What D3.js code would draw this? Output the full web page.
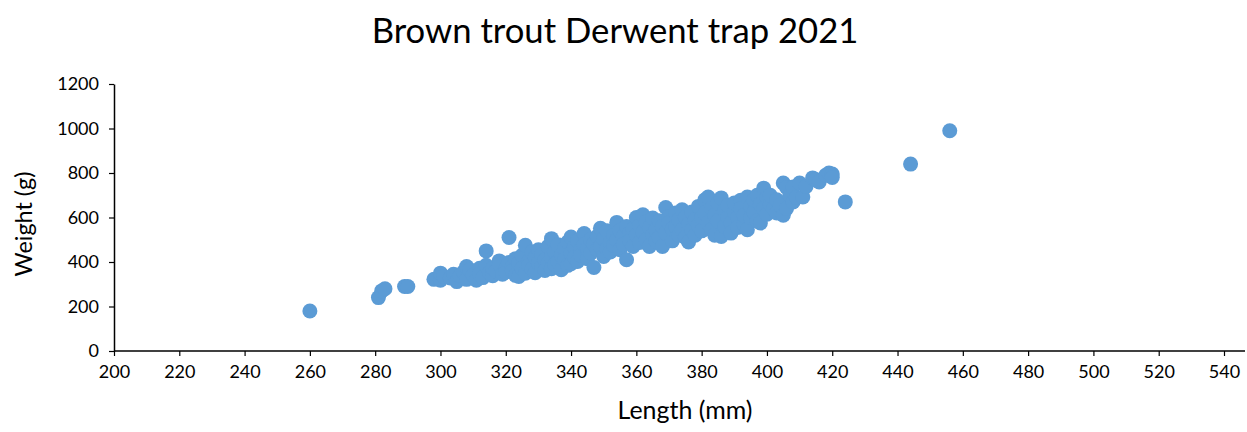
<!DOCTYPE html>
<html>
<head>
<meta charset="utf-8">
<script src="https://cdn.jsdelivr.net/npm/d3@7/dist/d3.min.js"></script>
<style>
  html, body { margin: 0; padding: 0; background: #fff; }
  svg { display: block; }
  text { font-family: "Lato", "Open Sans", sans-serif; fill: #000; }
</style>
</head>
<body>
<svg id="chart" width="1247" height="432"></svg>
<script>
const title = "Brown trout Derwent trap 2021";
const xLabel = "Length (mm)";
const yLabel = "Weight (g)";
const xTicks = [200,220,240,260,280,300,320,340,360,380,400,420,440,460,480,500,520,540];
const yTicks = [0,200,400,600,800,1000,1200];

// [length mm, weight g]
const lengths = [260,281,282,283,289,290,
298,300,300,301,303,304,305,306,307,308,308,309,310,311,312,312,313,314,314,315,316,316,317,318,318,319,
320,320,321,321,322,322,323,323,324,324,325,325,326,326,327,327,328,328,329,329,330,330,331,331,332,332,333,333,334,334,334,335,335,336,336,337,337,338,338,339,339,
340,340,340,341,341,342,342,343,343,344,344,345,345,346,346,347,347,348,348,349,349,350,350,351,351,352,352,353,353,354,354,355,355,356,356,357,357,358,358,359,359,
360,360,361,361,362,362,363,363,364,364,365,365,366,366,367,367,368,368,369,369,370,370,371,371,372,372,373,373,374,374,375,375,376,376,377,377,378,378,379,379,
380,380,381,381,382,382,383,383,384,384,385,385,386,386,387,387,388,388,389,389,390,390,391,391,392,392,393,393,394,394,395,395,396,396,397,397,398,398,399,399,
400,400,401,401,402,403,403,404,405,405,406,406,407,408,408,409,410,411,412,414,415,416,418,419,420,420,424,444,456];
const weights = [180,240,270,280,290,290,
322,318,350,335,328,345,312,338,355,380,322,365,340,318,372,345,330,450,385,352,338,372,360,405,390,345,
372,355,510,398,380,360,340,415,395,335,430,372,475,350,402,385,445,368,420,352,395,455,378,432,410,362,470,395,505,420,370,445,390,478,402,430,365,460,410,490,385,
512,440,392,468,420,495,402,455,430,528,478,415,460,500,440,375,482,515,455,552,470,425,505,540,460,488,445,520,475,578,500,455,540,515,480,410,560,530,495,470,548,
600,520,488,565,612,535,500,580,555,470,598,520,545,495,585,510,470,560,645,530,605,575,495,548,620,560,590,520,635,545,600,510,490,570,625,545,590,520,650,565,
600,540,680,620,575,692,640,545,520,610,665,585,688,515,630,560,600,655,575,530,625,665,600,555,678,640,570,610,692,545,650,600,625,680,700,585,575,660,732,640,
690,615,660,700,640,680,620,655,755,610,735,640,700,737,670,690,755,692,740,778,770,760,790,800,795,780,670,840,990];

const svg = d3.select("#chart");

const x = d3.scaleLinear().domain([200, 540]).range([114, 1224]);
const y = d3.scaleLinear().domain([0, 1200]).range([351, 84]);

// x axis
const xAxis = d3.axisBottom(x).tickValues(xTicks).tickFormat(d3.format("d")).tickSize(5).tickSizeOuter(0).tickPadding(9);
const gx = svg.append("g").attr("transform", `translate(0,${y(0)})`).call(xAxis);
gx.select(".domain").remove();
gx.append("line").attr("x1", x(200)).attr("x2", 1245).attr("y1", 0).attr("y2", 0)
  .attr("stroke", "#000").attr("stroke-width", 1.5);
gx.selectAll(".tick line").attr("stroke", "#000").attr("stroke-width", 1.2);
gx.selectAll(".tick text").attr("font-size", 18).attr("font-family", "Lato, sans-serif").attr("fill", "#000");

// y axis
const yAxis = d3.axisLeft(y).tickValues(yTicks).tickFormat(d3.format("d")).tickSize(5).tickSizeOuter(0).tickPadding(10);
const gy = svg.append("g").attr("transform", `translate(${x(200)},0)`).call(yAxis);
gy.select(".domain").attr("stroke", "#000").attr("stroke-width", 1.5);
gy.selectAll(".tick line").attr("stroke", "#000").attr("stroke-width", 1.2);
gy.selectAll(".tick text").attr("font-size", 18).attr("font-family", "Lato, sans-serif").attr("fill", "#000");

// points
svg.append("g").selectAll("circle")
  .data(lengths.map((l, i) => [l, weights[i]]))
  .join("circle")
  .attr("cx", d => x(d[0]))
  .attr("cy", d => y(d[1]))
  .attr("r", 7.5)
  .attr("fill", "#5B9BD5");

function fitText(sel, target, base) {
  const len = sel.node().getComputedTextLength();
  sel.attr("font-size", base * target / len);
}

const t = svg.append("text").attr("x", 615).attr("y", 43).attr("text-anchor", "middle")
  .attr("font-size", 29).text(title);
fitText(t, 487, 29);

const xl = svg.append("text").attr("x", 685).attr("y", 419).attr("text-anchor", "middle")
  .attr("font-size", 20).text(xLabel);
fitText(xl, 135, 20);

const yl = svg.append("text").attr("transform", "translate(32,224) rotate(-90)").attr("text-anchor", "middle")
  .attr("font-size", 20).text(yLabel);
fitText(yl, 105, 20);
</script>
</body>
</html>
